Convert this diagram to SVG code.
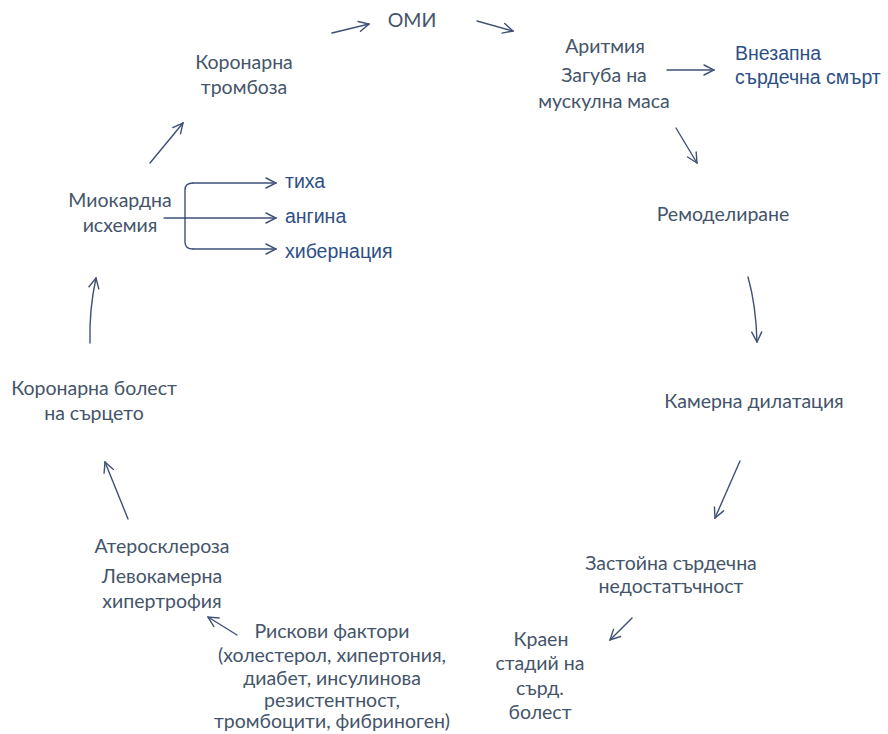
<svg xmlns="http://www.w3.org/2000/svg" width="888" height="734" viewBox="0 0 888 734">
<defs>
<style>
.t{font-family:Lato,"Open Sans","Liberation Sans",sans-serif;font-size:19.5px;fill:#44546a;text-anchor:middle}
.a{font-family:"Liberation Sans",Arial,sans-serif;font-size:19.5px;fill:#2d4f86}
.c{fill:none;stroke:#3f5078;stroke-width:1.4;stroke-linecap:round;marker-end:url(#ah)}
.b{fill:none;stroke:#3f5078;stroke-width:1.4;stroke-linecap:round}
</style>
<marker id="ah" viewBox="0 0 12 12" refX="11" refY="6" markerWidth="12" markerHeight="12" markerUnits="userSpaceOnUse" orient="auto">
<path d="M1,1 L11,6 L1,11" fill="none" stroke="#3f5078" stroke-width="1.4" stroke-linecap="round"/>
</marker>
</defs>
<rect width="888" height="734" fill="#ffffff"/>

<g id="omi"><text class="t" x="412" y="27">ОМИ</text></g>
<g id="coronary-thrombosis"><text class="t" x="244" y="69">Коронарна</text><text class="t" x="244" y="94">тромбоза</text></g>
<g id="arrhythmia"><text class="t" x="605" y="53">Аритмия</text><text class="t" x="604" y="82">Загуба на</text><text class="t" x="604" y="108">мускулна маса</text></g>
<g id="sudden-death"><text class="a" x="735" y="60">Внезапна</text><text class="a" x="735" y="84">сърдечна смърт</text></g>
<g id="remodeling"><text class="t" x="723" y="221">Ремоделиране</text></g>
<g id="dilatation"><text class="t" x="754" y="408">Камерна дилатация</text></g>
<g id="chf"><text class="t" x="671" y="570">Застойна сърдечна</text><text class="t" x="671" y="593">недостатъчност</text></g>
<g id="end-stage"><text class="t" x="541" y="646">Краен</text><text class="t" x="540" y="670">стадий на</text><text class="t" x="540" y="695">сърд.</text><text class="t" x="540" y="719">болест</text></g>
<g id="risk-factors"><text class="t" x="332" y="638">Рискови фактори</text><text class="t" x="332" y="662">(холестерол,  хипертония,</text><text class="t" x="332" y="685">диабет, инсулинова</text><text class="t" x="332" y="707">резистентност,</text><text class="t" x="332" y="728">тромбоцити, фибриноген)</text></g>
<g id="atherosclerosis"><text class="t" x="162" y="553">Атеросклероза</text><text class="t" x="162" y="583">Левокамерна</text><text class="t" x="162" y="608">хипертрофия</text></g>
<g id="chd"><text class="t" x="94" y="395">Коронарна болест</text><text class="t" x="94" y="420">на сърцето</text></g>
<g id="ischemia"><text class="t" x="120" y="207">Миокардна</text><text class="t" x="120" y="232">исхемия</text></g>
<g id="silent"><text class="a" x="285" y="188">тиха</text></g>
<g id="angina"><text class="a" x="285" y="223">ангина</text></g>
<g id="hibernation"><text class="a" x="285" y="258">хибернация</text></g>

<g id="connectors">
<path class="c" d="M332,33 L369,24"/>
<path class="c" d="M477,21 L513,31"/>
<path class="c" d="M667,70 L714,70"/>
<path class="c" d="M676,128 L697,163"/>
<path class="c" d="M748,277 Q756,305 757,342"/>
<path class="c" d="M740,461 L715,518"/>
<path class="c" d="M632,618 L610,640"/>
<path class="c" d="M237,635 L208,617"/>
<path class="c" d="M128,519 L105,462"/>
<path class="c" d="M90,343 Q89,310 96,278"/>
<path class="c" d="M150,163 L183,123"/>
<path class="b" d="M164,218 L185,218"/>
<path class="b" d="M185,218 L185,190 Q185,183 193,183"/>
<path class="b" d="M185,218 L185,242 Q185,249 193,249"/>
<path class="c" d="M193,183 L276,183"/>
<path class="c" d="M185,218 L276,218"/>
<path class="c" d="M193,249 L276,249"/>
</g>
</svg>
